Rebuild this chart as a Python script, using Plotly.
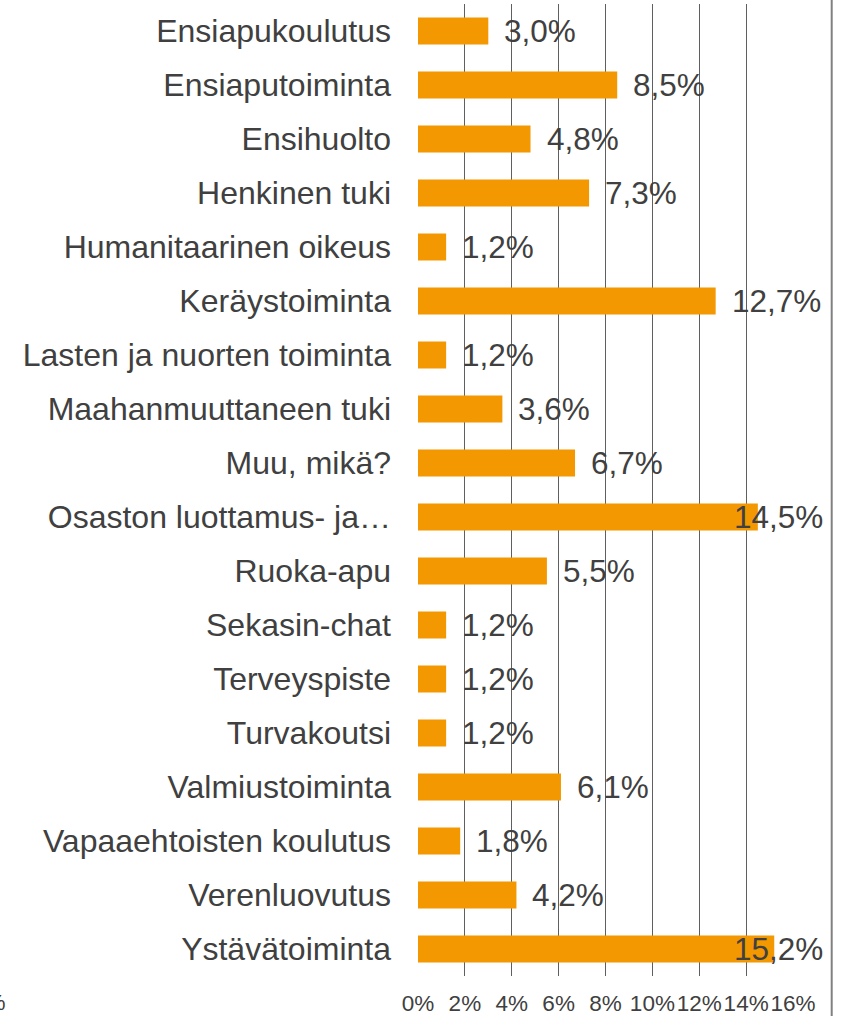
import plotly.graph_objects as go

categories = [
    "Ensiapukoulutus", "Ensiaputoiminta", "Ensihuolto", "Henkinen tuki",
    "Humanitaarinen oikeus", "Keräystoiminta", "Lasten ja nuorten toiminta",
    "Maahanmuuttaneen tuki", "Muu, mikä?", "Osaston luottamus- ja…",
    "Ruoka-apu", "Sekasin-chat", "Terveyspiste", "Turvakoutsi",
    "Valmiustoiminta", "Vapaaehtoisten koulutus", "Verenluovutus", "Ystävätoiminta",
]
values = [3.0, 8.5, 4.8, 7.3, 1.2, 12.7, 1.2, 3.6, 6.7, 14.5, 5.5, 1.2, 1.2, 1.2, 6.1, 1.8, 4.2, 15.2]
tick_vals = [0, 2, 4, 6, 8, 10, 12, 14, 16]
tick_text = ["0%", "2%", "4%", "6%", "8%", "10%", "12%", "14%", "16%"]

W, H = 848, 1016
L, R, T, B = 418, 55, 4, 40
plot_w = W - L - R
plot_h = H - T - B
x_max = 16.0
px_per_unit = plot_w / x_max
label_limit_px = 823  # labels kept inside the chart frame

FONT = "Liberation Sans, Arial, sans-serif"
TXT = "#404040"
LBL = 31.5

fig = go.Figure()
fig.add_trace(go.Bar(
    y=categories, x=values, orientation="h",
    marker=dict(color="#F39800", line=dict(width=0)),
    hoverinfo="skip",
))

annotations = []
for c, v in zip(categories, values):
    label = f"{v:.1f}%".replace(".", ",")
    est_w = (len(label) - 1) * 0.556 * LBL + 0.889 * LBL - 0.278 * LBL
    end_px = L + v * px_per_unit + 15 + est_w
    if end_px <= label_limit_px:
        annotations.append(dict(x=v / x_max, y=c, xref="paper", yref="y", text=label,
                                showarrow=False, xanchor="left", xshift=14,
                                font=dict(family=FONT, size=LBL, color=TXT)))
    else:
        annotations.append(dict(x=(label_limit_px - L) / plot_w, y=c, xref="paper", yref="y",
                                text=label, showarrow=False, xanchor="right", xshift=2,
                                font=dict(family=FONT, size=LBL, color=TXT)))

# cut-off label at the far left edge
annotations.append(dict(x=(-L + 8) / plot_w, y=-27 / plot_h, xref="paper", yref="paper",
                        text="0%", showarrow=False, xanchor="right", yanchor="middle",
                        font=dict(family=FONT, size=22.5, color=TXT)))

fig.update_layout(
    width=W, height=H,
    margin=dict(l=L, r=R, t=T, b=B),
    paper_bgcolor="white", plot_bgcolor="white",
    bargap=0.5,
    showlegend=False,
    annotations=annotations,
    shapes=[dict(type="line", xref="paper", yref="paper",
                 x0=(831.7 - L) / plot_w, x1=(831.7 - L) / plot_w,
                 y0=-1, y1=2, line=dict(color="#808080", width=2))],
    xaxis=dict(
        range=[0, x_max], tickvals=tick_vals, ticktext=tick_text,
        showgrid=True, gridcolor="#5f5f5f", gridwidth=1,
        zeroline=False, showline=False, ticks="",
        tickangle=0, automargin=False,
        ticklabelstandoff=11,
        tickfont=dict(family=FONT, size=22.5, color=TXT),
        fixedrange=True,
    ),
    yaxis=dict(
        autorange="reversed", categoryorder="array", categoryarray=categories,
        showgrid=False, zeroline=False, showline=False, ticks="",
        automargin=False,
        ticklabelstandoff=26,
        tickfont=dict(family=FONT, size=32, color=TXT),
        fixedrange=True,
    ),
)
fig.update_layout(xaxis_layer="below traces")

fig.write_html(
    "out.html",
    config={"displayModeBar": False},
    post_script="document.body.style.margin='0';document.body.style.overflow='hidden';",
)
